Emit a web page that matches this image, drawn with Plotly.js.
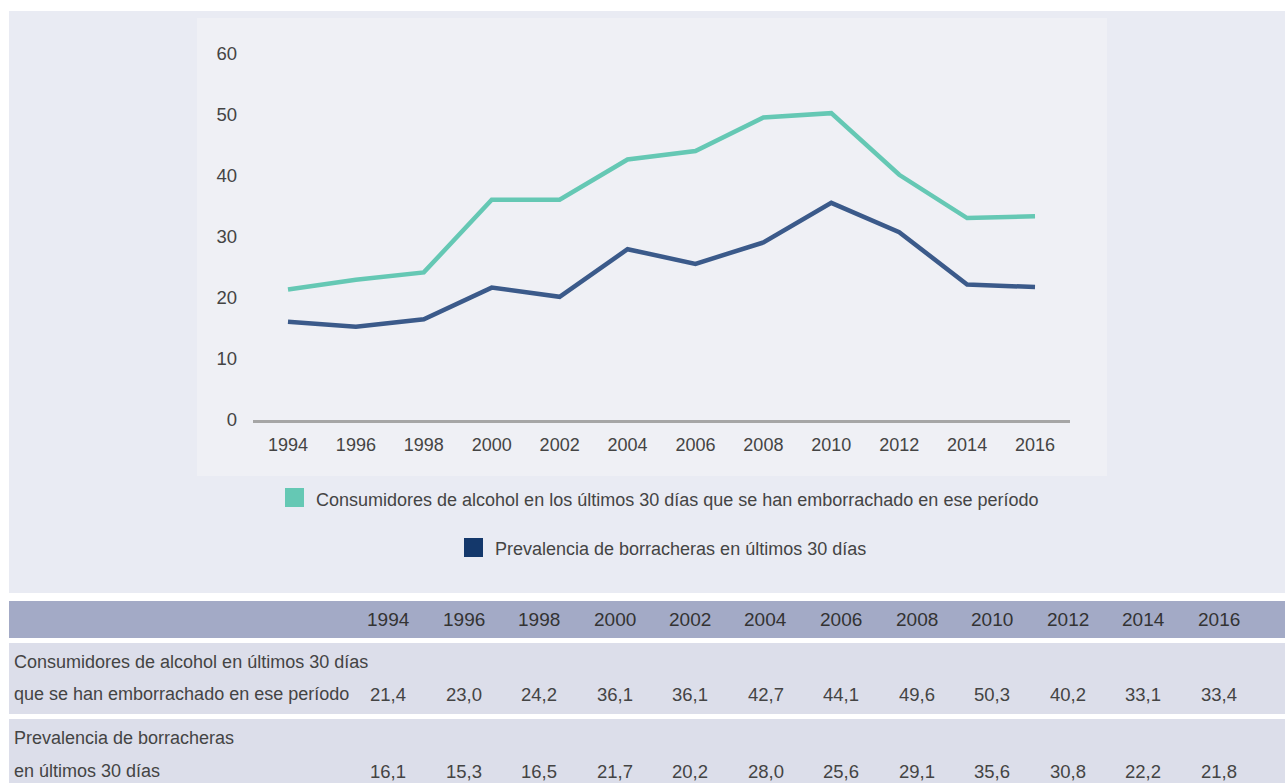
<!DOCTYPE html>
<html>
<head>
<meta charset="utf-8">
<script src="https://cdn.plot.ly/plotly-3.0.1.min.js"></script>
<style>html,body{margin:0;padding:0;background:#fff;}#chart{width:1285px;height:783px;}</style>
</head>
<body>
<div id="chart"></div>
<script>
// ---- data ----
const years = [1994, 1996, 1998, 2000, 2002, 2004, 2006, 2008, 2010, 2012, 2014, 2016];
const consumidores = [21.4, 23.0, 24.2, 36.1, 36.1, 42.7, 44.1, 49.6, 50.3, 40.2, 33.1, 33.4];
const prevalencia = [16.1, 15.3, 16.5, 21.7, 20.2, 28.0, 25.6, 29.1, 35.6, 30.8, 22.2, 21.8];
const legendNames = [
  "Consumidores de alcohol en los últimos 30 días que se han emborrachado en ese período",
  "Prevalencia de borracheras en últimos 30 días"
];
const rowLabels = [
  ["Consumidores de alcohol en últimos 30 días", "que se han emborrachado en ese período"],
  ["Prevalencia de borracheras", "en últimos 30 días"]
];
const yTicks = [0, 10, 20, 30, 40, 50, 60];

// ---- layout helpers (pixel -> paper) ----
const W = 1285, H = 783;
const L = 253, R = 1070, T = 54, B = 420;
const PW = R - L, PH = B - T;
const X = px => (px - L) / PW;
const Y = py => (B - py) / PH;

const FONT = "Liberation Sans, Arial, sans-serif";
const TEAL = "#65c8b4", NAVY_LINE = "#3b5a8a", NAVY = "#14386b";

function rect(x0, y0, x1, y1, color) {
  return {type: "rect", xref: "paper", yref: "paper", layer: "below",
    x0: X(x0), x1: X(x1), y0: Y(y1), y1: Y(y0), fillcolor: color, line: {width: 0}};
}
function text(px, py, s, opts) {
  return Object.assign({xref: "paper", yref: "paper", x: X(px), y: Y(py), text: s,
    showarrow: false, xanchor: "center", yanchor: "middle",
    font: {family: FONT, size: 18, color: "#444"}}, opts || {});
}
const fmt = v => v.toFixed(1).replace(".", ",");

const shapes = [
  rect(9, 11, 1285, 593, "#e9ebf3"),
  rect(197, 18, 1107, 476, "#eff0f5"),
  // legend squares
  rect(285, 488, 304, 507, TEAL),
  rect(464, 538, 483, 557, NAVY),
  // table rows
  rect(9, 601, 1285, 638, "#a3aac6"),
  rect(9, 643, 1285, 714, "#dcdeea"),
  rect(9, 719, 1285, 783, "#dcdeea")
];

const annotations = [
  text(314, 500, legendNames[0], {xanchor: "left"}),
  text(493, 549, legendNames[1], {xanchor: "left"}),
  text(12, 662, rowLabels[0][0], {xanchor: "left"}),
  text(12, 694, rowLabels[0][1], {xanchor: "left"}),
  text(12, 738, rowLabels[1][0], {xanchor: "left"}),
  text(12, 771, rowLabels[1][1], {xanchor: "left"})
];
const colX0 = 388, colStep = 75.5;
years.forEach((yr, i) => {
  const cx = colX0 + i * colStep;
  annotations.push(text(cx, 619, String(yr), {font: {family: FONT, size: 19, color: "#333"}}));
  annotations.push(text(cx, 694, fmt(consumidores[i]), {font: {family: FONT, size: 18.5, color: "#444"}}));
  annotations.push(text(cx, 771, fmt(prevalencia[i]), {font: {family: FONT, size: 18.5, color: "#444"}}));
});

const traces = [
  {x: years, y: consumidores, type: "scatter", mode: "lines", name: legendNames[0],
   line: {color: TEAL, width: 4.5}, hoverinfo: "skip"},
  {x: years, y: prevalencia, type: "scatter", mode: "lines", name: legendNames[1],
   line: {color: NAVY_LINE, width: 4.5}, hoverinfo: "skip"}
];

const layout = {
  width: W, height: H,
  margin: {l: L, r: W - R, t: T, b: H - B, pad: 0},
  paper_bgcolor: "#ffffff",
  plot_bgcolor: "rgba(0,0,0,0)",
  showlegend: false,
  xaxis: {
    range: [1992.97, 2017.03], tickvals: years, ticktext: years.map(String),
    showgrid: false, zeroline: false, showline: true, linecolor: "#a6a6a6", linewidth: 3,
    ticks: "", ticklabelstandoff: 6,
    tickfont: {family: FONT, size: 18, color: "#444"}, fixedrange: true
  },
  yaxis: {
    range: [0, 60], tickvals: yTicks, showgrid: false, zeroline: false, showline: false,
    ticks: "", ticklabelstandoff: 15,
    tickfont: {family: FONT, size: 18.5, color: "#444"}, fixedrange: true
  },
  shapes: shapes,
  annotations: annotations
};

Plotly.newPlot("chart", traces, layout, {staticPlot: true, displayModeBar: false});
</script>
</body>
</html>
